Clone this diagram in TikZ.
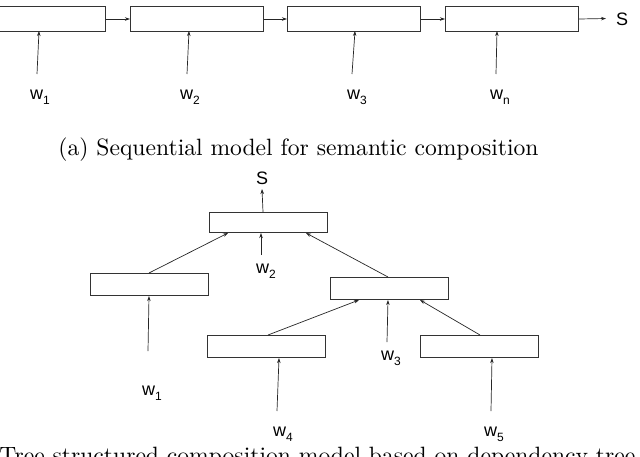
\documentclass[tikz,border=0pt]{standalone}
\usepackage{fontspec}
\newfontfamily\labfont{Liberation Sans}
\usetikzlibrary{arrows.meta}
\newcommand{\wlab}[1]{\labfont w\raisebox{-0.55ex}{\fontsize{12}{12}\selectfont #1}}
\begin{document}
\begin{tikzpicture}[x=1pt,y=-1pt,
  cell/.style={draw=black!80,line width=1pt,minimum width=118pt,minimum height=22pt,inner sep=0pt,anchor=north west},
  rcell/.style={draw=black!80,line width=1pt,minimum width=133pt,minimum height=25pt,inner sep=0pt,anchor=north west},
  lab/.style={font=\fontsize{18}{20}\selectfont,inner sep=0pt},
  arr/.style={-{Stealth[length=5pt,width=3.5pt]},black!85,line width=0.7pt},
  captext/.style={font=\fontsize{10}{12}\selectfont,inner sep=0pt,scale=2.36}]
\useasboundingbox (0,0) rectangle (640,456);
\clip (0,0) rectangle (640,456);
% sequential model
\node[rcell] (r1) at (-28,6) {};
\node[rcell] (r2) at (130,6) {};
\node[rcell] (r3) at (287,6) {};
\node[rcell] (r4) at (445,6) {};
\node[lab,anchor=west] (s1) at (616,19) {\labfont S};
\coordinate (send) at (606,18.5);
\draw[arr] (r1.east) -- (r2.west);
\draw[arr] (r2.east) -- (r3.west);
\draw[arr] (r3.east) -- (r4.west);
\draw[arr] (r4.east) -- (send);
\node[lab] (a1) at (40,97) {\wlab{1}};
\node[lab] (a2) at (190,97) {\wlab{2}};
\node[lab] (a3) at (357,97) {\wlab{3}};
\node[lab] (an) at (500,97) {\wlab{n}};
\coordinate (b1) at (37,74); \coordinate (b2) at (187,74);
\coordinate (b3) at (352,74); \coordinate (bn) at (496,74);
\draw[arr] (b1) -- (39,31);
\draw[arr] (b2) -- (189,31);
\draw[arr] (b3) -- (355,31);
\draw[arr] (bn) -- (497,31);
\node[captext,anchor=base] (capa) at (298.5,155) {(a) Sequential model for semantic composition};
% tree model
\node[cell,minimum height=20pt] (t) at (209,212) {};
\node[cell] (l) at (90,273) {};
\node[cell] (m) at (330,277) {};
\node[cell] (bl) at (207,335) {};
\node[cell] (br) at (420,335) {};
\node[lab] (s2) at (262,178) {\labfont S};
\draw[arr] (263,212) -- (262,189);
\node[lab] (c2) at (266,271) {\wlab{2}};
\draw[arr] (261,255) -- (261,233);
\draw[arr] (149,273) -- (228,233);
\draw[arr] (388,277) -- (306,233);
\node[lab] (c1) at (152,393) {\wlab{1}};
\draw[arr] (148,351) -- (149,296);
\node[lab] (c3) at (391,358) {\wlab{3}};
\draw[arr] (387,342) -- (388,300);
\node[lab] (c4) at (283,434) {\wlab{4}};
\draw[arr] (277,411) -- (279,358);
\node[lab] (c5) at (494,434) {\wlab{5}};
\draw[arr] (491,411) -- (492,358);
\draw[arr] (268,335) -- (359,300);
\draw[arr] (480,335) -- (420,300);
\node[captext,anchor=base west] (capb) at (-1,463) {Tree structured composition model based on dependency tree};
\end{tikzpicture}
\end{document}
